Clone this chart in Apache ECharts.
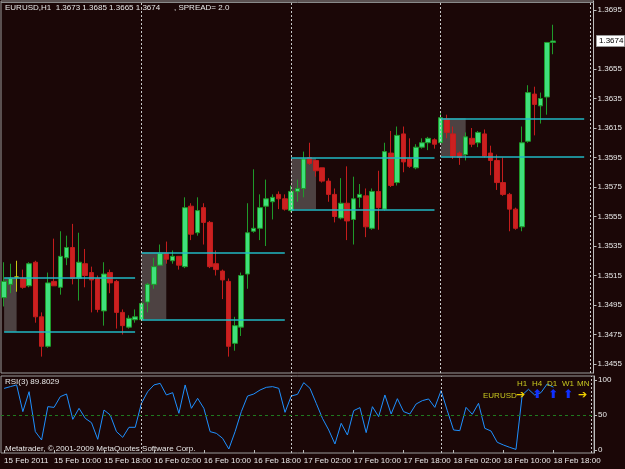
<!DOCTYPE html>
<html>
<head>
<meta charset="utf-8">
<script src="https://cdn.jsdelivr.net/npm/echarts@6/dist/echarts.min.js"></script>
<style>
  html, body { margin: 0; padding: 0; background: #1b0707; }
  #chart { width: 625px; height: 469px; }
</style>
</head>
<body>
<div id="chart"></div>
<script>
// EURUSD H1, 15 Feb 02:00 .. 18 Feb 18:00
const days = ["15 Feb", "16 Feb", "17 Feb", "18 Feb", "19 Feb"];
const firstHour = 2;

const open = [
  1.3500, 1.3509, 1.3514, 1.3513, 1.3508, 1.3524, 1.3487, 1.3467, 1.3511, 1.3507,
  1.3527, 1.3534, 1.3513, 1.3523, 1.3517, 1.3513, 1.3491, 1.3517, 1.3511, 1.3490,
  1.3480, 1.3485, 1.3485, 1.3497, 1.3509, 1.3522, 1.3530, 1.3525, 1.3528, 1.3521,
  1.3562, 1.3544, 1.3561, 1.3551, 1.3523, 1.3518, 1.3511, 1.3469, 1.3480, 1.3516,
  1.3545, 1.3547, 1.3562, 1.3565, 1.3570, 1.3567, 1.3559, 1.3572, 1.3574, 1.3595,
  1.3593, 1.3588, 1.3579, 1.3570, 1.3554, 1.3564, 1.3553, 1.3568, 1.3569, 1.3547,
  1.3572, 1.3560, 1.3598, 1.3578, 1.3611, 1.3594, 1.3588, 1.3602, 1.3605, 1.3607,
  1.3605, 1.3621, 1.3611, 1.3598, 1.3597, 1.3608, 1.3605, 1.3611, 1.3598, 1.3593,
  1.3578, 1.3570, 1.3560, 1.3548, 1.3606, 1.3638, 1.3630, 1.3636, 1.3673
];
const high = [
  1.3524, 1.3523, 1.3525, 1.3519, 1.3524, 1.3525, 1.3490, 1.3517, 1.3540, 1.3545,
  1.3542, 1.3550, 1.3544, 1.3533, 1.3521, 1.3515, 1.3524, 1.3519, 1.3512, 1.3492,
  1.3488, 1.3492, 1.3497, 1.3510, 1.3527, 1.3536, 1.3538, 1.3532, 1.3528, 1.3568,
  1.3564, 1.3568, 1.3564, 1.3552, 1.3532, 1.3519, 1.3513, 1.3487, 1.3517, 1.3564,
  1.3587, 1.3570, 1.3580, 1.3570, 1.3572, 1.3570, 1.3576, 1.3580, 1.3599, 1.3605,
  1.3593, 1.3588, 1.3581, 1.3574, 1.3581, 1.3589, 1.3582, 1.3577, 1.3574, 1.3574,
  1.3586, 1.3605, 1.3613, 1.3616, 1.3616, 1.3608, 1.3604, 1.3608, 1.3609, 1.3608,
  1.3625, 1.3624, 1.3616, 1.3599, 1.3612, 1.3615, 1.3613, 1.3614, 1.3603, 1.3597,
  1.3595, 1.3571, 1.3561, 1.3616, 1.3644, 1.3643, 1.3639, 1.3673, 1.3685
];
const low = [
  1.3494, 1.3503, 1.3504, 1.3506, 1.3507, 1.3483, 1.3460, 1.3466, 1.3508, 1.3502,
  1.3522, 1.3509, 1.3498, 1.3507, 1.3490, 1.3490, 1.3481, 1.3503, 1.3479, 1.3475,
  1.3479, 1.3483, 1.3484, 1.3490, 1.3506, 1.3522, 1.3523, 1.3523, 1.3519, 1.3520,
  1.3539, 1.3542, 1.3536, 1.3520, 1.3515, 1.3499, 1.3460, 1.3464, 1.3474, 1.3506,
  1.3544, 1.3539, 1.3535, 1.3553, 1.3560, 1.3559, 1.3558, 1.3565, 1.3568, 1.3590,
  1.3582, 1.3578, 1.3565, 1.3551, 1.3553, 1.3539, 1.3536, 1.3561, 1.3541, 1.3546,
  1.3546, 1.3559, 1.3575, 1.3576, 1.3585, 1.3588, 1.3587, 1.3601, 1.3600, 1.3601,
  1.3604, 1.3608, 1.3594, 1.3590, 1.3593, 1.3602, 1.3602, 1.3595, 1.3583, 1.3573,
  1.3569, 1.3545, 1.3546, 1.3545, 1.3605, 1.3610, 1.3618, 1.3624, 1.3665
];
const close = [
  1.3511, 1.3513, 1.3514, 1.3507, 1.3523, 1.3487, 1.3467, 1.3510, 1.3508, 1.3528,
  1.3534, 1.3513, 1.3524, 1.3515, 1.3512, 1.3492, 1.3516, 1.3510, 1.3490, 1.3481,
  1.3486, 1.3487, 1.3496, 1.3509, 1.3521, 1.3530, 1.3526, 1.3528, 1.3522, 1.3561,
  1.3543, 1.3559, 1.3551, 1.3521, 1.3519, 1.3512, 1.3467, 1.3481, 1.3515, 1.3544,
  1.3547, 1.3561, 1.3567, 1.3568, 1.3567, 1.3560, 1.3572, 1.3574, 1.3594, 1.3591,
  1.3586, 1.3579, 1.3570, 1.3555, 1.3564, 1.3552, 1.3567, 1.3570, 1.3548, 1.3572,
  1.3561, 1.3599, 1.3576, 1.3610, 1.3592, 1.3589, 1.3602, 1.3605, 1.3608, 1.3604,
  1.3622, 1.3612, 1.3596, 1.3595, 1.3609, 1.3604, 1.3612, 1.3596, 1.3593, 1.3578,
  1.3570, 1.3560, 1.3547, 1.3605, 1.3639, 1.3631, 1.3635, 1.3673, 1.3674
];
const rsi = [
  88, 90.5, 93, 54.8, 83.3, 26.2, 14.3, 61.9, 60.9, 76.2,
  80, 43.8, 59.5, 45.2, 39, 15.2, 57.1, 50, 26.2, 18.1,
  32.4, 32.4, 66.7, 83.3, 92.9, 95.2, 78.6, 81.9, 52.4, 92.9,
  59.5, 73.8, 59.5, 26.2, 23.8, 16.7, 1.4, 26.2, 54.8, 77.1,
  80, 85.7, 89.5, 90.5, 88.1, 53.8, 77.1, 79.5, 96.2, 88.1,
  66.7, 45.2, 28.6, 8.6, 38.1, 21.4, 56.2, 60.5, 24.8, 61.9,
  47.6, 78.6, 51.4, 73.3, 54.8, 51.4, 65.7, 70.5, 72.9, 60.9,
  84.8, 56.2, 28.6, 27.6, 60.9, 51, 66.7, 31, 27.1, 11,
  7.1, 3.8, 0.8, 78.6, 86.7, 78.6, 81.9, 94.3, 89.8
];

// session range levels (one per day) and the bars they span
const rangeHigh = [1.35135, 1.35306, 1.35945, 1.36216];
const rangeLow = [1.34769, 1.34853, 1.35599, 1.35958];
const rangeStart = [0, 22, 46, 70];
const boxEnd = [2, 26, 50, 74];
const lineEnd = [21, 45, 69, 93];
const separators = [22, 46, 70, 94];

const priceTicks = [1.3455, 1.3475, 1.3495, 1.3515, 1.3535, 1.3555, 1.3575,
  1.3595, 1.3615, 1.3635, 1.3655, 1.3695];
const rsiTicks = [0, 50, 100];
const rsiLast = "89.8029";
const spread = "2.0";

// hourly categories, plus empty slots to the right of the last bar
let categories = [];
days.forEach((d, k) => {
  let h0 = k === 0 ? firstHour : 0;
  let h1 = k === days.length - 1 ? 0 : 23;
  for (let h = h0; h <= h1; h++) {
    categories.push(d + " " + (h < 10 ? "0" : "") + h + ":00");
  }
});

let candles = open.map((o, i) => [o, close[i], low[i], high[i]]);
let last = open.length - 1;
let fmt = (v) => v.toFixed(4);
// a time label every 8 bars, only under real bars
let timeTick = (i) => i % 8 === 0 && i <= last;

const font = "'Liberation Sans', Arial, sans-serif";
const fs = 8;
const txt = "#e8e8e8";
const yellow = "#c8c820";
const sepStyle = { color: "#c8c8c8", type: [2, 2], width: 1 };

let cyanLines = [];
let boxes = [];
rangeStart.forEach((s, k) => {
  cyanLines.push([{ coord: [categories[s], rangeHigh[k]] }, { coord: [categories[lineEnd[k]], rangeHigh[k]] }]);
  cyanLines.push([{ coord: [categories[s], rangeLow[k]] }, { coord: [categories[lineEnd[k]], rangeLow[k]] }]);
  boxes.push([{ coord: [categories[s], rangeHigh[k]] }, { coord: [categories[boxEnd[k]], rangeLow[k]] }]);
});

function label(id, x, y, text, color, f) {
  return { id: id, type: "text", left: x, top: y, z: 10, style: { text: text, fill: color, font: f || fs + "px " + font } };
}

let chart = echarts.init(document.getElementById("chart"), null, { renderer: "canvas" });

let option = {
  backgroundColor: "#1b0707",
  animation: false,
  textStyle: { fontFamily: font },
  grid: [
    { left: 1, right: 31, top: 1, height: 372, show: true, borderColor: "#9a9a9a", borderWidth: 1 },
    { left: 1, right: 31, top: 376, height: 77, show: true, borderColor: "#9a9a9a", borderWidth: 1 },
  ],
  xAxis: [
    {
      type: "category", gridIndex: 0, data: categories,
      axisLine: { show: false }, axisTick: { show: false }, axisLabel: { show: false },
    },
    {
      type: "category", gridIndex: 1, data: categories,
      axisLine: { show: false },
      axisTick: { show: true, interval: timeTick, alignWithLabel: true, length: 3, lineStyle: { color: "#bdbdbd" } },
      axisLabel: {
        interval: timeTick, align: "left", margin: 4, fontSize: fs, color: txt, fontFamily: font,
        hideOverlap: false,
        formatter: (v, i) => (i === 0 ? "15 Feb 2011" : v),
      },
    },
  ],
  yAxis: [
    {
      type: "value", gridIndex: 0, position: "right",
      min: 1.34489, max: 1.37011,
      splitLine: { show: false },
      axisLine: { show: true, lineStyle: { color: "#bdbdbd" } },
      axisTick: { show: true, length: 3, customValues: priceTicks, lineStyle: { color: "#bdbdbd" } },
      axisLabel: { customValues: priceTicks, formatter: fmt, fontSize: fs, color: txt, margin: 4, fontFamily: font },
    },
    {
      type: "value", gridIndex: 1, position: "right",
      min: -4.3, max: 105.7,
      splitLine: { show: false },
      axisLine: { show: true, lineStyle: { color: "#bdbdbd" } },
      axisTick: { show: true, length: 3, customValues: rsiTicks, lineStyle: { color: "#bdbdbd" } },
      axisLabel: { customValues: rsiTicks, fontSize: fs, color: txt, margin: 4, fontFamily: font },
    },
  ],
  series: [
    {
      // session boxes, under the candles
      type: "line", xAxisIndex: 0, yAxisIndex: 0, data: [], z: 1,
      markArea: {
        silent: true,
        itemStyle: { color: "rgba(140,140,140,0.45)" },
        data: boxes,
      },
      markLine: {
        silent: true, symbol: "none",
        label: { show: false },
        lineStyle: { color: "#20b8c4", width: 1.5, type: "solid" },
        data: cyanLines,
      },
    },
    {
      type: "candlestick", xAxisIndex: 0, yAxisIndex: 0, z: 3,
      data: candles,
      barWidth: 5,
      itemStyle: {
        color: "#3fe07c", color0: "#cc2020",
        borderColor: "#1f9a2a", borderColor0: "#c41c1c",
        borderColorDoji: "#c8c814", borderWidth: 1,
      },
      markLine: {
        silent: true, symbol: "none", label: { show: false },
        data: separators.map((i) => ({ xAxis: categories[i], lineStyle: sepStyle }))
          .concat([{ yAxis: close[last], lineStyle: { color: "#8a8a8a", type: "solid", width: 1 } }]),
      },
    },
    {
      type: "line", xAxisIndex: 1, yAxisIndex: 1, data: rsi, z: 3,
      symbol: "none", lineStyle: { color: "#1e90ff", width: 1 },
      markLine: {
        silent: true, symbol: "none", label: { show: false },
        data: separators.map((i) => ({ xAxis: categories[i], lineStyle: sepStyle }))
          .concat([{ yAxis: 50, lineStyle: { color: "#1f7a1f", type: [3, 3], width: 1 } }]),
      },
    },
  ],
  graphic: [
    label("hdr", 5, 4, "EURUSD,H1  " + [open[last], high[last], low[last], close[last]].map(fmt).join(" "), txt),
    label("spr", 174, 4, ", SPREAD= " + spread, txt),
    label("rsi", 5, 378, "RSI(3) " + rsiLast, txt),
    label("copy", 5, 445, "Metatrader, © 2001-2009 MetaQuotes Software Corp.", txt),
    label("sym", 483, 392, "EURUSD", yellow),
    label("h1", 517, 380, "H1", yellow),
    label("h4", 532, 380, "H4", yellow),
    label("d1", 547, 380, "D1", yellow),
    label("w1", 562, 380, "W1", yellow),
    label("mn", 577, 380, "MN", yellow),
    label("a1", 516, 390, "➔", "#f0d000", "bold 11px 'DejaVu Sans'"),
    label("a2", 532, 389, "⬆", "#1030ff", "bold 12px 'DejaVu Sans'"),
    label("a3", 548, 389, "⬆", "#1030ff", "bold 12px 'DejaVu Sans'"),
    label("a4", 563, 389, "⬆", "#1030ff", "bold 12px 'DejaVu Sans'"),
    label("a5", 578, 390, "➔", "#f0d000", "bold 11px 'DejaVu Sans'"),
  ],
};

chart.setOption(option);

// current bid box on the price scale
let bidY = chart.convertToPixel({ yAxisIndex: 0 }, close[last]);
chart.setOption({
  graphic: [
    { id: "bidBox", type: "rect", z: 11, shape: { x: 596.5, y: Math.round(bidY) - 5.5, width: 28, height: 11 },
      style: { fill: "#ffffff", stroke: "#9a9a9a", lineWidth: 1 } },
    { id: "bidTxt", type: "text", z: 12, x: 599, y: Math.round(bidY),
      style: { text: fmt(close[last]), fill: "#000000", font: fs + "px " + font, verticalAlign: "middle" } },
  ],
});
</script>
</body>
</html>
